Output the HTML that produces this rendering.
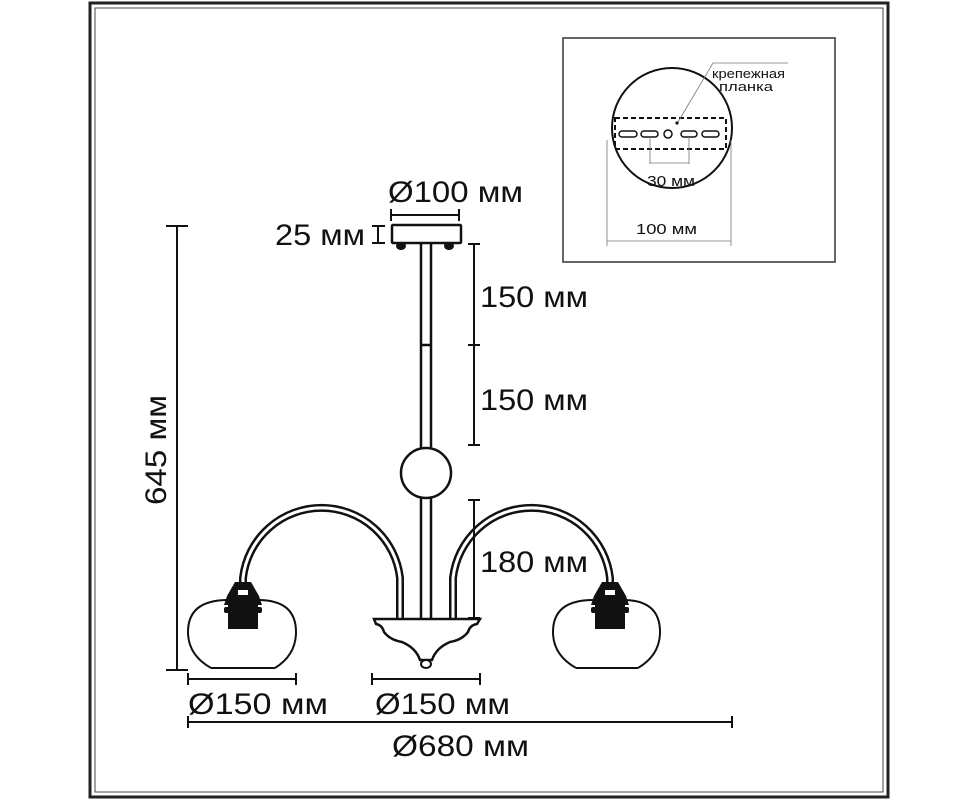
<!DOCTYPE html>
<html><head><meta charset="utf-8"><style>
html,body{margin:0;padding:0;background:#fff}
svg{display:block}
text{font-family:"Liberation Sans",sans-serif;fill:#111}
</style></head><body>
<svg width="978" height="800" viewBox="0 0 978 800" xmlns="http://www.w3.org/2000/svg">
<rect x="90" y="3" width="798" height="794" fill="none" stroke="#222" stroke-width="3"/>
<rect x="95" y="8" width="788" height="784" fill="none" stroke="#444" stroke-width="1"/>

<!-- inset -->
<rect x="563" y="38" width="272" height="224" fill="none" stroke="#333" stroke-width="1.5"/>
<circle cx="672" cy="128" r="60" fill="none" stroke="#111" stroke-width="2"/>
<rect x="615" y="118" width="111" height="31" fill="none" stroke="#111" stroke-width="2" stroke-dasharray="5,3"/>
<g fill="none" stroke="#111" stroke-width="1.5">
<rect x="619" y="131" width="18" height="6" rx="3"/>
<rect x="641" y="131" width="17" height="6" rx="3"/>
<rect x="681" y="131" width="16" height="6" rx="3"/>
<rect x="702" y="131" width="17" height="6" rx="3"/>
<circle cx="668" cy="134" r="4"/>
</g>
<g stroke="#777" stroke-width="0.8" fill="none">
<path d="M650 137V164M689 137V164M650 163H689"/>
<path d="M607 140V246M731 140V246M607 241H731"/>
<path d="M678 122L713 63H788"/>
</g>
<circle cx="677" cy="123" r="1.6" fill="#111"/>
<g lengthAdjust="spacingAndGlyphs">
<text x="647" y="186" font-size="15" textLength="48" lengthAdjust="spacingAndGlyphs">30 мм</text>
<text x="636" y="234" font-size="15" textLength="61" lengthAdjust="spacingAndGlyphs">100 мм</text>
<text x="712" y="78" font-size="13" textLength="73" lengthAdjust="spacingAndGlyphs">крепежная</text>
<text x="719" y="91" font-size="13" textLength="54" lengthAdjust="spacingAndGlyphs">планка</text>
</g>

<!-- canopy -->
<rect x="392" y="225" width="69" height="18" fill="none" stroke="#111" stroke-width="2.5" rx="1"/>
<ellipse cx="401" cy="246" rx="5" ry="4" fill="#111"/>
<ellipse cx="449" cy="246" rx="5" ry="4" fill="#111"/>
<!-- rod -->
<g stroke="#111" stroke-width="2.5" fill="none">
<path d="M421 243V449M431 243V449M421 345H431"/>
<circle cx="426" cy="473" r="25"/>
<path d="M421 497V619M431 497V619"/>
</g>
<!-- arms -->
<g fill="none" stroke-linecap="butt">
<path d="M243 590V578A79 79 0 0 1 400 578V620" stroke="#111" stroke-width="8"/>
<path d="M243 590V578A79 79 0 0 1 400 578V620" stroke="#fff" stroke-width="3"/>
<path d="M453 620V578A79 79 0 0 1 610 578V590" stroke="#111" stroke-width="8"/>
<path d="M453 620V578A79 79 0 0 1 610 578V590" stroke="#fff" stroke-width="3"/>
</g>
<!-- bowl -->
<path d="M374 619H480L477 624Q470 625 468 632Q462 640 450 642Q436 648 432 660L420 660Q416 648 402 642Q390 640 384 632Q382 625 376 624Z" fill="#fff" stroke="#111" stroke-width="2.5"/>
<ellipse cx="426" cy="664" rx="5" ry="4" fill="#fff" stroke="#111" stroke-width="2"/>
<!-- shades -->
<g fill="none" stroke="#111" stroke-width="2">
<path d="M211 668Q188 655 188 632Q188 600 228 600M258 600Q296 600 296 632Q296 655 275 668M211 668H275"/>
<path d="M576 668Q553 655 553 632Q553 600 593 600M623 600Q660 600 660 632Q660 655 638 668M576 668H638"/>
</g>
<g fill="#111">
<path d="M235 582H251L259 596L262 605H224L227 596Z"/>
<rect x="228" y="604" width="30" height="25"/>
<rect x="224" y="607" width="38" height="6" rx="2"/>
<path d="M602 582H618L626 596L629 605H591L594 596Z"/>
<rect x="595" y="604" width="30" height="25"/>
<rect x="591" y="607" width="38" height="6" rx="2"/>
</g>
<rect x="238" y="590" width="10" height="5" fill="#fff"/>
<rect x="605" y="590" width="10" height="5" fill="#fff"/>

<!-- dimension lines -->
<g stroke="#111" stroke-width="2" fill="none">
<path d="M177 226V670M166 226H188M166 670H188"/>
<path d="M474 244V445M468 244H480M468 345H480M468 445H480"/>
<path d="M474 500V618M468 500H480M468 618H480"/>
<path d="M391 215H459M391 209V221M459 209V221"/>
<path d="M378 226V243M372 226H385M372 243H385"/>
<path d="M188 679H296M188 673V685M296 673V685"/>
<path d="M372 679H480M372 673V685M480 673V685"/>
<path d="M188 722H732M188 716V728M732 716V728"/>
</g>
<g font-size="30">
<text x="388" y="202" textLength="135" lengthAdjust="spacingAndGlyphs">Ø100 мм</text>
<text x="275" y="245" textLength="90" lengthAdjust="spacingAndGlyphs">25 мм</text>
<text x="480" y="307" textLength="108" lengthAdjust="spacingAndGlyphs">150 мм</text>
<text x="480" y="410" textLength="108" lengthAdjust="spacingAndGlyphs">150 мм</text>
<text x="480" y="572" textLength="108" lengthAdjust="spacingAndGlyphs">180 мм</text>
<text x="188" y="714" textLength="140" lengthAdjust="spacingAndGlyphs">Ø150 мм</text>
<text x="375" y="714" textLength="135" lengthAdjust="spacingAndGlyphs">Ø150 мм</text>
<text x="392" y="756" textLength="137" lengthAdjust="spacingAndGlyphs">Ø680 мм</text>
<text transform="translate(166,505) rotate(-90)" textLength="110" lengthAdjust="spacingAndGlyphs">645 мм</text>
</g>
</svg>
</body></html>
